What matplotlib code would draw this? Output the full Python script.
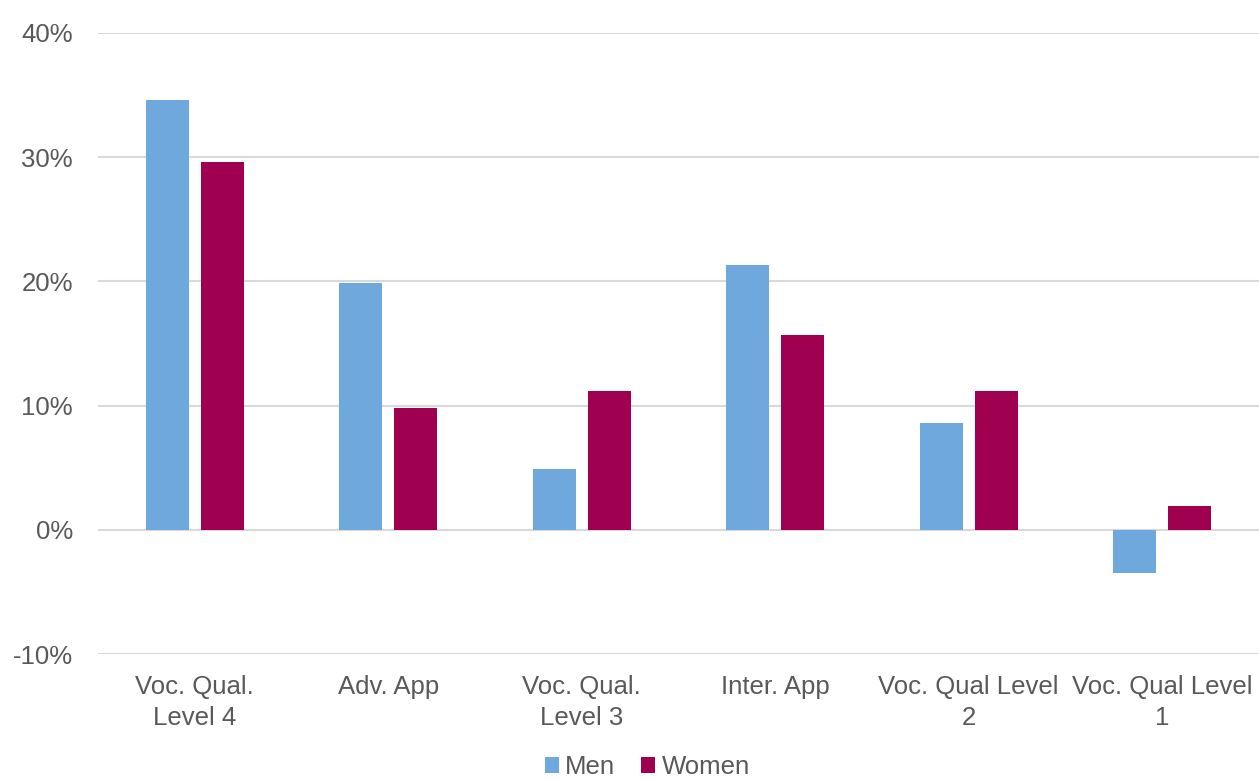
import matplotlib.pyplot as plt
import numpy as np
from matplotlib.ticker import FuncFormatter, MultipleLocator

# ---- data ----
categories = ["Voc. Qual.\nLevel 4", "Adv. App", "Voc. Qual.\nLevel 3",
              "Inter. App", "Voc. Qual Level\n2", "Voc. Qual Level\n1"]
men = [34.6, 19.9, 4.9, 21.3, 8.6, -3.5]
women = [29.6, 9.8, 11.2, 15.7, 11.2, 1.9]

MEN_COLOR = "#6FA8DC"
WOMEN_COLOR = "#A00050"
TEXT_COLOR = "#595959"
GRID_COLOR = "#D9D9D9"
FONTSIZE = 18.5

plt.rcParams["font.family"] = ["Liberation Sans", "DejaVu Sans"]

fig = plt.figure(figsize=(12.59, 7.8), dpi=100)
ax = fig.add_axes([0.0778, 0.1615, 0.9222, 0.7962])

x = np.arange(len(categories))
width = 0.222
offset = 0.142
bars_m = ax.bar(x - offset, men, width, color=MEN_COLOR, label="Men", zorder=3)
bars_w = ax.bar(x + offset, women, width, color=WOMEN_COLOR, label="Women", zorder=3)

ax.set_xlim(-0.5, len(categories) - 0.5)
ax.set_ylim(-10, 40)
ax.yaxis.set_major_locator(MultipleLocator(10))
ax.yaxis.set_major_formatter(FuncFormatter(lambda v, p: f"{v:.0f}%"))
ax.grid(axis="y", color=GRID_COLOR, linewidth=1.5, zorder=0)
ax.set_axisbelow(True)

for s in ax.spines.values():
    s.set_visible(False)

ax.set_xticks(x)
ax.set_xticklabels(categories, linespacing=1.4)
ax.tick_params(axis="both", length=0, labelsize=FONTSIZE, labelcolor=TEXT_COLOR)
ax.tick_params(axis="y", pad=18)
ax.tick_params(axis="x", pad=15)

# legend sits right at the bottom edge, as in the original
fig.legend(handles=[bars_m, bars_w], labels=["Men", "Women"],
           loc="center", bbox_to_anchor=(0.514, 0.0165), ncol=2, frameon=False,
           fontsize=FONTSIZE, labelcolor=TEXT_COLOR,
           handlelength=0.55, handleheight=0.55, handletextpad=0.25,
           columnspacing=1.0, borderpad=0.1)

fig.savefig("out.png", dpi=100)
